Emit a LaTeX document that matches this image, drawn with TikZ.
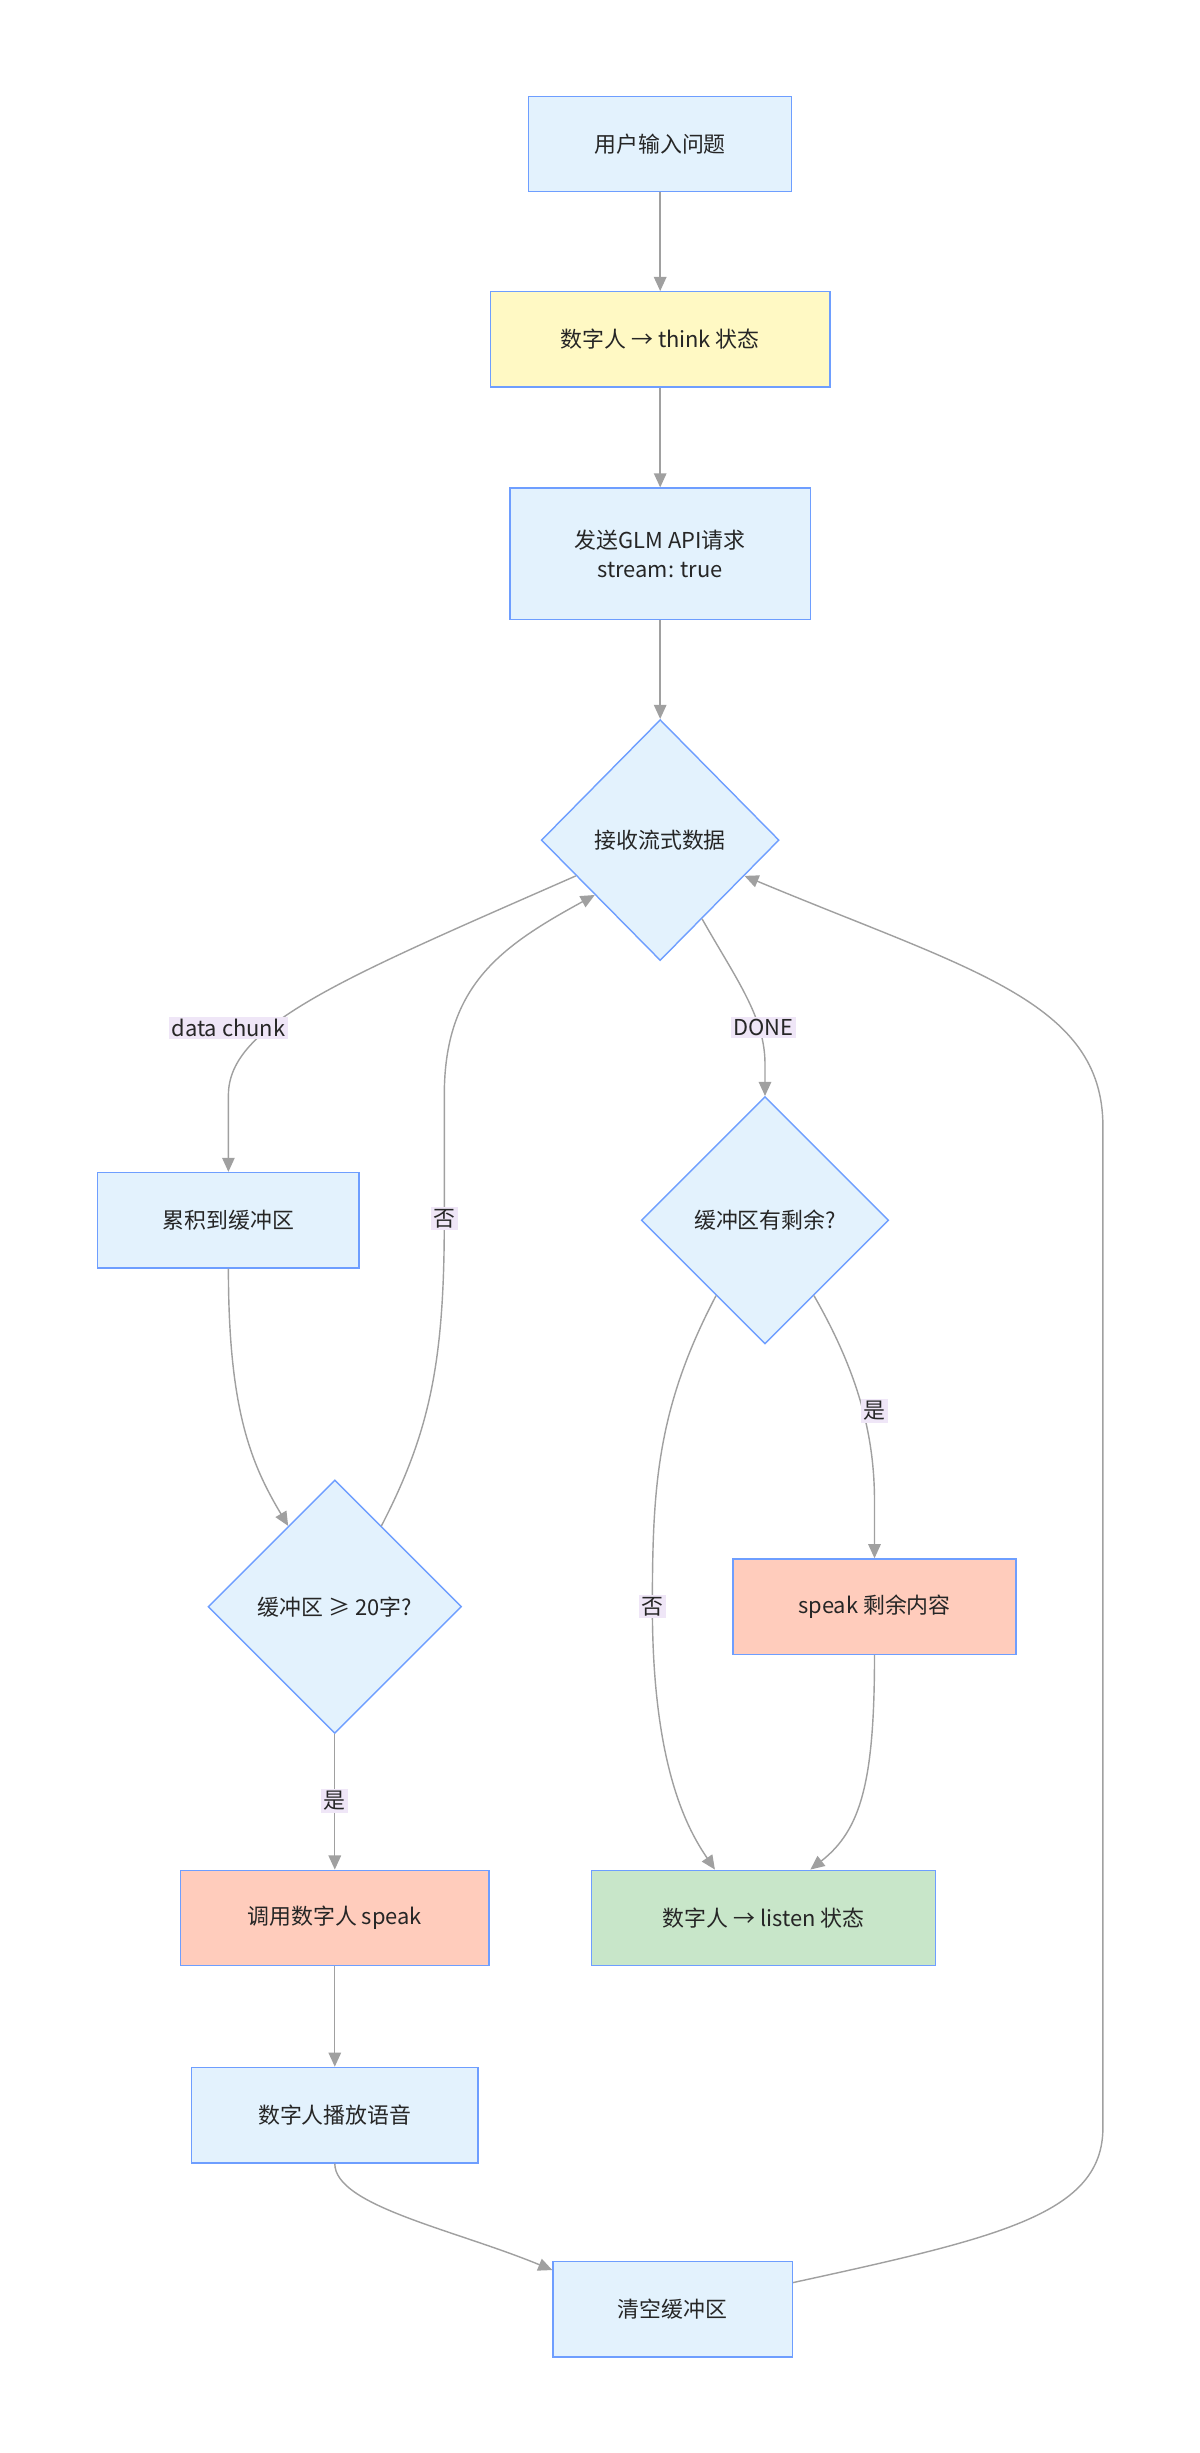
\documentclass[tikz,border=0pt]{standalone}
\usepackage{fontspec}
\setmainfont{Noto Sans CJK SC}
\usetikzlibrary{shapes.geometric,arrows.meta}
\definecolor{bfill}{HTML}{E3F2FD}
\definecolor{bdraw}{HTML}{6E9EFF}
\definecolor{yfill}{HTML}{FFF9C4}
\definecolor{sfill}{HTML}{FFCCBC}
\definecolor{gfill}{HTML}{C8E6C9}
\definecolor{edge}{HTML}{A0A0A0}
\definecolor{lbl}{HTML}{EFE6F7}
\tikzset{
 box/.style={draw=bdraw,fill=bfill,line width=0.9pt,rectangle,inner sep=0pt,font=\fontsize{14}{19}\selectfont,align=center,text=black!85},
 dia/.style={draw=bdraw,fill=bfill,line width=0.9pt,diamond,inner sep=0pt,font=\fontsize{14}{19}\selectfont,text=black!85},
 arr/.style={draw=edge,line width=0.9pt,-{Triangle[length=9pt,width=8pt]}},
 lab/.style={fill=lbl,inner sep=1.5pt,font=\fontsize{14}{17}\selectfont,text=black!85}
}
\begin{document}
\begin{tikzpicture}[x=1pt,y=-1pt]
\useasboundingbox[fill=white] (0,0) rectangle (767,1568);
\node[box,minimum width=168pt,minimum height=61pt] (n1) at (422,92) {用户输入问题};
\node[box,fill=yfill,minimum width=217pt,minimum height=61pt] (n2) at (422,217) {数字人 → think 状态};
\node[box,minimum width=192pt,minimum height=84pt] (n3) at (422,354) {发送GLM API请求\\stream: true};
\node[dia,minimum width=152pt,minimum height=154pt] (d1) at (422,537) {接收流式数据};
\node[box,minimum width=167pt,minimum height=61pt] (n4) at (146,780) {累积到缓冲区};
\node[dia,minimum width=158pt,minimum height=158pt] (d2) at (489,780) {缓冲区有剩余?};
\node[dia,minimum width=162pt,minimum height=162pt] (d3) at (214,1027) {缓冲区 ≥ 20字?};
\node[box,fill=sfill,minimum width=181pt,minimum height=61pt] (n5) at (559,1027) {speak 剩余内容};
\node[box,fill=sfill,minimum width=197pt,minimum height=61pt] (n6) at (214,1226) {调用数字人 speak};
\node[box,fill=gfill,minimum width=220pt,minimum height=61pt] (n7) at (488,1226) {数字人 → listen 状态};
\node[box,minimum width=183pt,minimum height=61pt] (n8) at (214,1352) {数字人播放语音};
\node[box,minimum width=153pt,minimum height=61pt] (n9) at (430,1476) {清空缓冲区};

\draw[arr] (n1) -- (n2);
\draw[arr] (n2) -- (n3);
\draw[arr] (n3) -- (d1);
\draw[arr] (d1.203) .. controls (220,625) and (146,655) .. (146,700) -- (n4.north);
\draw[arr] (d1.298) .. controls (470,625) and (489,650) .. (489,680) -- (d2.north);
\draw[arr] (n4.south) .. controls (146,900) and (160,935) .. (d3.120);
\draw[arr] (d3.60) .. controls (275,915) and (284,870) .. (284,780) -- (284,700) .. controls (284,630) and (320,605) .. (d1.220);
\draw[arr] (n6.north |- d3.south) -- (n6.north);
\draw[arr] (d2.237) .. controls (420,900) and (417,950) .. (417,1027) .. controls (417,1130) and (440,1170) .. ([xshift=-31pt]n7.north);
\draw[arr] (d2.303) .. controls (550,880) and (559,920) .. (559,960) -- (n5.north);
\draw[arr] (n5.south) .. controls (559,1140) and (550,1170) .. ([xshift=30pt]n7.north);
\draw[arr] (n6) -- (n8);
\draw[arr] (n8.south) .. controls (214,1410) and (290,1425) .. ([yshift=-6pt]n9.north west);
\draw[arr] ([yshift=-14pt]n9.north east) .. controls (640,1430) and (705,1415) .. (705,1360) -- (705,720) .. controls (705,640) and (620,620) .. (d1.337);

\node[lab] (l1) at (146,657) {data chunk};
\node[lab] (l2) at (488,657) {DONE};
\node[lab] (l3) at (284,779) {否};
\node[lab] (l4) at (559,902) {是};
\node[lab] (l5) at (417,1027) {否};
\node[lab] (l6) at (214,1151) {是};
\end{tikzpicture}
\end{document}
